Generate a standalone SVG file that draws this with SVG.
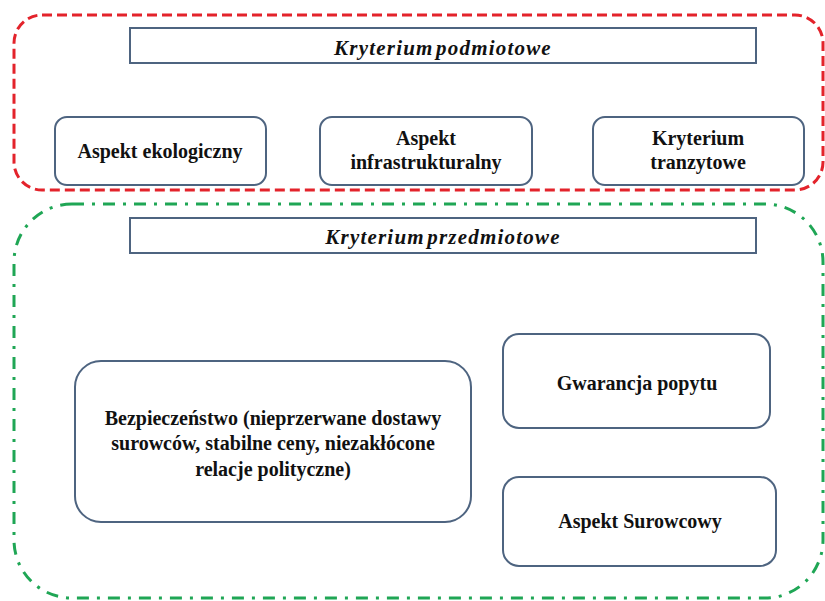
<svg xmlns="http://www.w3.org/2000/svg" width="825" height="601" viewBox="0 0 825 601">
<defs>
<rect id="hdr" width="626" height="35" fill="#fff" stroke="#4e6480" stroke-width="2"/>
</defs>
<rect width="825" height="601" fill="#fff"/>
<g id="group-podmiotowe">
<rect x="14" y="15" width="809" height="175" rx="28" fill="none" stroke="#e3232b" stroke-width="3" stroke-dasharray="10 5"/>
</g>
<g id="group-przedmiotowe">
<rect x="14" y="204" width="809" height="394" rx="58" fill="none" stroke="#1fa655" stroke-width="3" stroke-dasharray="12 8 3 8"/>
</g>
<g id="h1">
<use href="#hdr" x="130" y="28"/>
<text x="443" y="55" font-family="Liberation Serif" font-weight="bold" font-style="italic" font-size="21" letter-spacing="1.2" word-spacing="-4" fill="#111" text-anchor="middle">Kryterium podmiotowe</text>
</g>
<g id="n1">
<rect x="55" y="117" width="211" height="68" rx="12" fill="#fff" stroke="#4e6480" stroke-width="2"/>
<text x="160" y="158" font-family="Liberation Serif" font-weight="bold" font-size="20" fill="#111" text-anchor="middle">Aspekt ekologiczny</text>
</g>
<g id="n2">
<rect x="320" y="117" width="212" height="68" rx="12" fill="#fff" stroke="#4e6480" stroke-width="2"/>
<text x="426" y="145" font-family="Liberation Serif" font-weight="bold" font-size="20" fill="#111" text-anchor="middle">Aspekt</text>
<text x="426" y="169" font-family="Liberation Serif" font-weight="bold" font-size="20" fill="#111" text-anchor="middle">infrastrukturalny</text>
</g>
<g id="n3">
<rect x="593" y="117" width="211" height="68" rx="12" fill="#fff" stroke="#4e6480" stroke-width="2"/>
<text x="698" y="145" font-family="Liberation Serif" font-weight="bold" font-size="20" fill="#111" text-anchor="middle">Kryterium</text>
<text x="698" y="169" font-family="Liberation Serif" font-weight="bold" font-size="20" fill="#111" text-anchor="middle">tranzytowe</text>
</g>
<g id="h2">
<use href="#hdr" x="130" y="218"/>
<text x="443" y="244" font-family="Liberation Serif" font-weight="bold" font-style="italic" font-size="21" letter-spacing="1.2" word-spacing="-4" fill="#111" text-anchor="middle">Kryterium przedmiotowe</text>
</g>
<g id="n4">
<rect x="75" y="361" width="396" height="161" rx="26" fill="#fff" stroke="#4e6480" stroke-width="2"/>
<text x="273" y="425" font-family="Liberation Serif" font-weight="bold" font-size="20" fill="#111" text-anchor="middle">Bezpieczeństwo (nieprzerwane dostawy</text>
<text x="273" y="450" font-family="Liberation Serif" font-weight="bold" font-size="20" fill="#111" text-anchor="middle">surowców, stabilne ceny, niezakłócone</text>
<text x="273" y="476" font-family="Liberation Serif" font-weight="bold" font-size="20" fill="#111" text-anchor="middle">relacje polityczne)</text>
</g>
<g id="n5">
<rect x="503" y="334" width="267" height="94" rx="16" fill="#fff" stroke="#4e6480" stroke-width="2"/>
<text x="637" y="390" font-family="Liberation Serif" font-weight="bold" font-size="20" fill="#111" text-anchor="middle">Gwarancja popytu</text>
</g>
<g id="n6">
<rect x="503" y="477" width="273" height="89" rx="16" fill="#fff" stroke="#4e6480" stroke-width="2"/>
<text x="640" y="528" font-family="Liberation Serif" font-weight="bold" font-size="20" fill="#111" text-anchor="middle">Aspekt Surowcowy</text>
</g>
<g id="connectors"/>
</svg>
